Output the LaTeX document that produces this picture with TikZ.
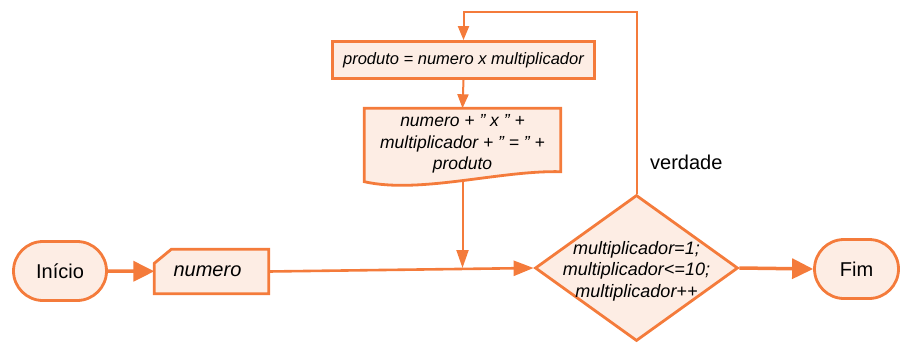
\documentclass[tikz,border=0pt]{standalone}
\usepackage{fontspec}
\setmainfont{Liberation Sans}
\usetikzlibrary{positioning,arrows.meta,shapes.geometric,shapes.misc,calc}
\definecolor{flowline}{HTML}{F47B3B}
\definecolor{flowfill}{HTML}{FDEDE4}
\newcommand{\dq}{\symbol{34}}

\begin{document}
\begin{tikzpicture}[x=1pt, y=-1pt,
    terminal/.style={rounded rectangle, draw=flowline, fill=flowfill, line width=2.8pt,
      inner sep=0pt, font=\fontsize{20}{24}\selectfont},
    process/.style={rectangle, draw=flowline, fill=flowfill, line width=2.8pt,
      inner sep=0pt, font=\fontsize{16.5}{20}\selectfont\itshape},
    decision/.style={diamond, draw=flowline, fill=flowfill, line width=2.8pt, inner sep=0pt},
    outline/.style={draw=flowline, fill=flowfill, line width=2.8pt, line join=miter},
    plain/.style={inner sep=0pt, align=center},
    mainflow/.style={draw=flowline, line width=3.5pt, -{Triangle[length=21pt, width=20pt]}},
    sideflow/.style={draw=flowline, line width=2pt, -{Triangle[length=14pt, width=11pt]}}]
  \useasboundingbox (0,0) rectangle (901,345);

  % start / end
  \node[terminal, minimum width=93pt, minimum height=59pt] (start) at (60,271) {Início};
  \node[terminal, minimum width=84pt, minimum height=59pt] (stop) at (856.5,269) {Fim};

  % manual input: box with a cut top-left corner
  \node[plain, minimum width=114pt, minimum height=44pt] (inp) at (211.5,271.5) {};
  \fill[outline] ($(inp.north west)+(0,14)$) -- ($(inp.north west)+(17,0)$)
    -- (inp.north east) -- (inp.south east) -- (inp.south west) -- cycle;
  \node[plain, font=\fontsize{20}{24}\selectfont\itshape] at ($(inp)+(-4,0)$) {numero};

  % for loop
  \node[decision, minimum width=203pt, minimum height=146pt] (loop) at (636.5,268) {};
  \node[plain, font=\fontsize{18}{21.5}\selectfont\itshape] at ($(loop)+(0,3)$)
    {multiplicador=1;\\multiplicador<=10;\\multiplicador++};

  % loop body
  \node[process, minimum width=262pt, minimum height=37pt] (calc) at (463.5,60)
    {produto = numero x multiplicador};
  \node[plain, minimum width=196pt, minimum height=73pt] (doc) at (462.5,145) {};
  \fill[outline] (doc.south west) -- (doc.north west) -- (doc.north east)
    -- ($(doc.south east)+(0,-10)$)
    .. controls ($(doc.south east)+(-60.5,-11.5)$) and ($(doc.south west)+(55.5,12.5)$)
    .. (doc.south west) -- cycle;
  \node[plain, font=\fontsize{17.5}{21.5}\selectfont\itshape] at ($(doc)+(0,-1)$)
    {numero + \dq\ x \dq\ +\\multiplicador + \dq\ = \dq\ +\\produto};

  % connectors
  \coordinate (top) at (0,12);
  \coordinate (merge) at (doc.south |- loop.west);
  \draw[mainflow] (start) -- (inp);
  \draw[draw=flowline, line width=2.6pt, -{Triangle[length=20pt, width=15pt]}] (inp.east) -- (loop.west);
  \draw[mainflow] (loop.east) -- (stop.west);
  \draw[sideflow] (loop.north) -- (loop.north |- top) -| (calc.north);
  \draw[sideflow] (calc.south) -- (doc.north);
  \draw[sideflow, -{Triangle[length=18pt, width=12pt]}] (doc.south) -- (merge);

  \node[plain, font=\fontsize{20}{24}\selectfont, anchor=west] (yes) at (650,162) {verdade};
\end{tikzpicture}
\end{document}
